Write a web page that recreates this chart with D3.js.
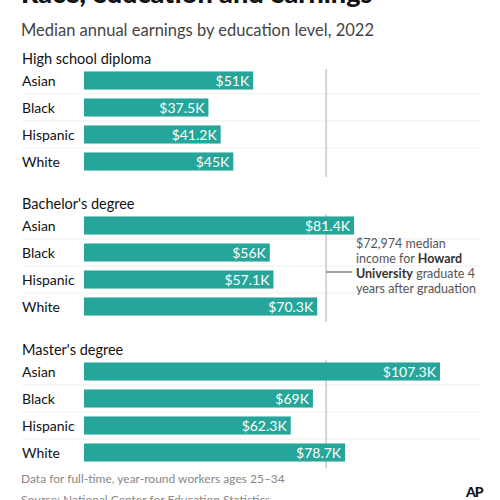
<!DOCTYPE html>
<html>
<head>
<meta charset="UTF-8">
<script src="https://cdn.jsdelivr.net/npm/d3@7"></script>
<style>
  body { margin: 0; background: #fff; }
  svg { font-family: Lato, "Open Sans", sans-serif; }
</style>
</head>
<body>
<script>
// data
var levels = ["High school diploma", "Bachelor's degree", "Master's degree"];
var races = ["Asian", "Black", "Hispanic", "White"];
var earnings = [
    [51, 37.5, 41.2, 45],
    [81.4, 56, 57.1, 70.3],
    [107.3, 69, 62.3, 78.7]
];
var labels = [
    ["$51K", "$37.5K", "$41.2K", "$45K"],
    ["$81.4K", "$56K", "$57.1K", "$70.3K"],
    ["$107.3K", "$69K", "$62.3K", "$78.7K"]
];
var howard = 72.974;

var teal = "#26a69a";
var svg = d3.select("body").append("svg").attr("width", 500).attr("height", 500);

var x = d3.scaleLinear().domain([0, 107.3]).range([84, 440]);
var groupTop = [59, 204, 350]; // header baselines

svg.append("text").attr("x", 21).attr("y", 3).attr("font-size", 27).attr("font-weight", 900)
    .attr("fill", "#111").text("Race, education and earnings");
svg.append("text").attr("x", 21).attr("y", 36).attr("font-size", 16.5).attr("fill", "#444")
    .text("Median annual earnings by education level, 2022");

levels.forEach(function (lev, g) {
    var top = groupTop[g];
    svg.append("text").attr("x", 22).attr("y", top + 5).attr("font-size", 14.5).attr("fill", "#111").text(lev);
    var y = d3.scaleBand().domain(races).range([top + 8, top + 8 + 4 * 27])
        .paddingInner(0.33).paddingOuter(0.165);
    // row separators
    races.forEach(function (r, i) {
        if (i > 0) {
            svg.append("line").attr("x1", 22).attr("x2", 480)
                .attr("y1", y(r) - 4.5).attr("y2", y(r) - 4.5)
                .attr("stroke", "#eee").attr("stroke-width", 1);
        }
    });
    // reference line
    svg.append("line").attr("x1", x(howard)).attr("x2", x(howard))
        .attr("y1", top + 10).attr("y2", top + 118)
        .attr("stroke", "#aaa").attr("stroke-width", 1);
    var gg = svg.append("g");
    gg.selectAll("rect").data(earnings[g]).enter().append("rect")
        .attr("x", x(0)).attr("y", function (d, i) { return y(races[i]); })
        .attr("width", function (d) { return x(d) - x(0); })
        .attr("height", y.bandwidth()).attr("fill", teal);
    gg.selectAll("text.lab").data(earnings[g]).enter().append("text")
        .attr("x", function (d) { return x(d) - 4; })
        .attr("y", function (d, i) { return y(races[i]) + y.bandwidth() / 2 + 5; })
        .attr("text-anchor", "end").attr("font-size", 14).attr("fill", "#fff")
        .text(function (d, i) { return labels[g][i]; });
    gg.selectAll("text.race").data(races).enter().append("text")
        .attr("x", 22).attr("y", function (d) { return y(d) + y.bandwidth() / 2 + 5; })
        .attr("font-size", 14).attr("fill", "#111").text(function (d) { return d; });
});

// annotation
svg.append("line").attr("x1", x(howard)).attr("x2", x(howard) + 26).attr("y1", 272).attr("y2", 272)
    .attr("stroke", "#666").attr("stroke-width", 1.2);
var ann = svg.append("text").attr("font-size", 12.5).attr("fill", "#555");
ann.append("tspan").attr("x", 356).attr("y", 248).text("$72,974 median");
ann.append("tspan").attr("x", 356).attr("y", 263).text("income for ");
ann.append("tspan").attr("font-weight", 700).attr("fill", "#333").text("Howard");
ann.append("tspan").attr("x", 356).attr("y", 278).attr("font-weight", 700).attr("fill", "#333").text("University");
ann.append("tspan").text(" graduate 4");
ann.append("tspan").attr("x", 356).attr("y", 293).text("years after graduation");

svg.append("text").attr("x", 21).attr("y", 483).attr("font-size", 12).attr("fill", "#888")
    .text("Data for full-time, year-round workers ages 25\u201334");
svg.append("text").attr("x", 21).attr("y", 504).attr("font-size", 12).attr("fill", "#888")
    .text("Source: National Center for Education Statistics");
svg.append("text").attr("x", 466).attr("y", 497).attr("font-size", 14).attr("font-weight", 900)
    .attr("fill", "#111").attr("letter-spacing", -1).text("AP");
</script>
</body>
</html>
